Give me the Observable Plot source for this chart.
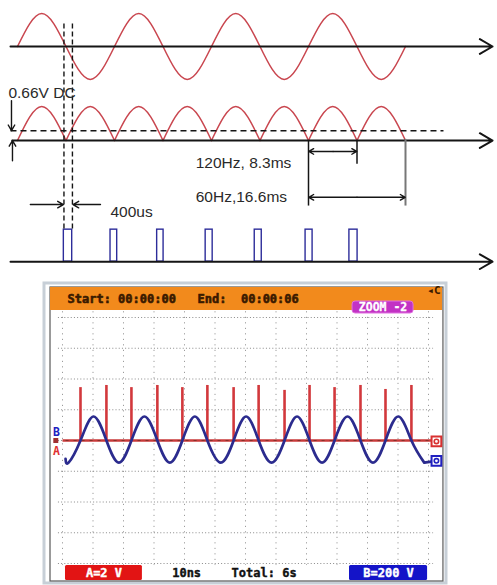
<!DOCTYPE html>
<html><head><meta charset="utf-8">
<script src="https://cdn.jsdelivr.net/npm/d3@7"></script>
<script src="https://cdn.jsdelivr.net/npm/@observablehq/plot@0.6"></script>
<style>
html,body{margin:0;padding:0;background:#fff;}
#chart{width:497px;}
#chart svg{display:block;}
</style></head><body><div id="chart"></div>
<script>
// ===== Top timing diagram: x = time (ms), y = amplitude units =====
const sineT = [0, 4.15, 8.3, 12.45, 16.6, 20.75, 24.9, 29.05, 33.2, 37.35, 41.5, 45.65, 49.8, 53.95, 58.1, 62.25, 66.4];
const sineV = [0, 1, 0, -1, 0, 1, 0, -1, 0, 1, 0, -1, 0, 1, 0, -1, 0];
const humpStart = [0, 8.3, 16.6, 24.9, 33.2, 41.5, 49.8, 58.1];
const humpWidth = 8.3;
const humpPeak = 1.03;
const dcLevel = 0.3;           // 0.66V DC above rectified baseline
const pulseStart = [7.93, 15.92, 23.9, 32.2, 40.6, 49.3, 56.8];
const pulseEnd   = [9.36, 17.06, 25.0, 33.4, 41.8, 50.5, 58.2];
const pulseHeight = 0.97;
const traceLevel = [0, -2.85, -6.52]; // sine, rectified, pulses
const labels = ["0.66V DC", "120Hz, 8.3ms", "60Hz,16.6ms", "400us"];

// ===== Oscilloscope: x = time (ms, 10/div), y = divisions =====
const spikeT = [5.9, 14.4, 22.6, 31.1, 39.3, 47.5, 56.1, 64.3, 72.8, 81.0, 89.2, 97.7, 105.9, 114.4];
const spikeV = [1.72, 1.79, 1.72, 1.79, 1.72, 1.79, 1.72, 1.79, 1.63, 1.79, 1.72, 1.79, 1.66, 1.79];
const blueT = [1.0, 2.0, 5.9, 10.15, 14.4, 18.5, 22.6, 26.85, 31.1, 35.2, 39.3, 43.4, 47.5, 51.9, 56.1, 60.2, 64.3, 68.55, 72.8, 76.9, 81.0, 85.1, 89.2, 93.45, 97.7, 101.8, 105.9, 110.15, 114.4, 118.6];
const blueV = [-0.6, -0.72, 0, 0.78, 0, -0.72, 0, 0.78, 0, -0.72, 0, 0.78, 0, -0.72, 0, 0.78, 0, -0.72, 0, 0.78, 0, -0.72, 0, 0.78, 0, -0.72, 0, 0.78, 0, -0.72];
const gridX = [0, 10, 20, 30, 40, 50, 60, 70, 80, 90, 100, 110, 120];
const gridY = [-4, -3, -2, -1, 0, 1, 2, 3, 4];
const scopeTexts = ["Start: 00:00:00", "End:  00:00:06", "ZOOM -2", "A=2 V", "10ns", "Total: 6s", "B=200 V"];

const RED = "#c9464f", INK = "#151515", NAVY = "#2d2d9a";
const sansFont = "Liberation Sans, Arial, sans-serif";

const sinePts = sineT.map((t, i) => ({t, v: traceLevel[0] + sineV[i]}));
const humpPts = humpStart.flatMap((s, k) => [
  {t: s, v: traceLevel[1], k},
  {t: s + humpWidth / 2, v: traceLevel[1] + humpPeak, k},
  {t: s + humpWidth, v: traceLevel[1], k}
]);
const pulses = pulseStart.map((s, i) => ({x1: s, x2: pulseEnd[i], y1: traceLevel[2], y2: traceLevel[2] + pulseHeight}));
const axesArrows = [
  {x1: -1.2, x2: 81.3, y: traceLevel[0]},
  {x1: -0.9, x2: 81.3, y: traceLevel[1]},
  {x1: -1.2, x2: 81.3, y: traceLevel[2]}
].map(d => ({x1: d.x1, x2: d.x2, y1: d.y, y2: d.y}));
const dcY = traceLevel[1] + dcLevel;

const topPlot = Plot.plot({
  width: 497, height: 272,
  marginTop: 0, marginBottom: 0, marginLeft: 0, marginRight: 0,
  x: {domain: [0, 66.4], range: [17, 405], axis: null},
  y: {domain: [0, 1], range: [46, 13], axis: null},
  marks: [
    Plot.rect(pulses, {x1: "x1", x2: "x2", y1: "y1", y2: "y2", fill: "none", stroke: NAVY, strokeWidth: 1.4}),
    Plot.line(sinePts, {x: "t", y: "v", curve: "natural", stroke: RED, strokeWidth: 1.5}),
    Plot.line(humpPts, {x: "t", y: "v", z: "k", curve: "natural", stroke: RED, strokeWidth: 1.5}),
    Plot.link([{x1: -1.2, x2: 72.9, y1: dcY, y2: dcY}], {x1: "x1", x2: "x2", y1: "y1", y2: "y2", stroke: INK, strokeWidth: 1.5, strokeDasharray: "6,4"}),
    Plot.link([{x: 7.95}, {x: 9.4}], {x1: "x", x2: "x", y1: () => 0.7, y2: () => traceLevel[2] + 0.99, stroke: INK, strokeWidth: 1.4, strokeDasharray: "5,3"}),
    Plot.arrow(axesArrows, {x1: "x1", x2: "x2", y1: "y1", y2: "y2", stroke: INK, strokeWidth: 2, headLength: 11}),
    Plot.arrow([{x1: -1.03, x2: -1.03, y1: -1.64, y2: dcY}], {x1: "x1", x2: "x2", y1: "y1", y2: "y2", stroke: INK, strokeWidth: 1.4, headLength: 7}),
    Plot.arrow([{x1: -0.86, x2: -0.86, y1: -3.46, y2: traceLevel[1]}], {x1: "x1", x2: "x2", y1: "y1", y2: "y2", stroke: INK, strokeWidth: 1.4, headLength: 7}),
    Plot.arrow([{x1: 2.2, x2: 7.85, y: -4.79}, {x1: 14.2, x2: 9.5, y: -4.79}], {x1: "x1", x2: "x2", y1: "y", y2: "y", stroke: INK, strokeWidth: 1.4, headLength: 7}),
    Plot.link([{x: 49.8, y2: -4.82}, {x: 58.1, y2: -3.55}], {x1: "x", x2: "x", y1: () => traceLevel[1], y2: "y2", stroke: INK, strokeWidth: 1.5}),
    Plot.link([{x: 66.4, y2: -4.82}], {x1: "x", x2: "x", y1: () => traceLevel[1] + 0.05, y2: "y2", stroke: "#777", strokeWidth: 2}),
    Plot.arrow([
      {x1: 54.0, x2: 58.05, y: -3.18}, {x1: 54.0, x2: 49.85, y: -3.18},
      {x1: 58.1, x2: 66.35, y: -4.57}, {x1: 58.1, x2: 49.85, y: -4.57}
    ], {x1: "x1", x2: "x2", y1: "y", y2: "y", stroke: INK, strokeWidth: 1.4, headLength: 6}),
    Plot.text([
      {x: -1.55, y: -1.42, s: labels[0]},
      {x: 30.5, y: -3.545, s: labels[1]},
      {x: 30.5, y: -4.575, s: labels[2]},
      {x: 15.9, y: -5.03, s: labels[3]}
    ], {x: "x", y: "y", text: "s", textAnchor: "start", fontSize: 15.5, fontFamily: sansFont, fill: "#2a2a2a"})
  ]
});

// ===== Oscilloscope =====
const spikes = spikeT.map((t, i) => ({t, v: spikeV[i]}));
const bluePts = blueT.map((t, i) => ({t, v: blueV[i]}));
const monoFont = "DejaVu Sans Mono, monospace";

const scopePlot = Plot.plot({
  width: 497, height: 313,
  marginTop: 0, marginBottom: 0, marginLeft: 0, marginRight: 0,
  x: {domain: [0, 120], range: [62, 428], axis: null},
  y: {domain: [-4, 4], range: [291, 45], axis: null},
  marks: [
    Plot.rect([{x1: -5.9, x2: 125.9, y1: -4.65, y2: 5.106}], {x1: "x1", x2: "x2", y1: "y1", y2: "y2", fill: "#fff", stroke: "#c7cfd7", strokeWidth: 3}),
    Plot.rect([{x1: -3.93, x2: 124.9, y1: -4.585, y2: 4.976}], {x1: "x1", x2: "x2", y1: "y1", y2: "y2", fill: "#fff", stroke: "#5a5a5a", strokeWidth: 1.2}),
    Plot.rect([{x1: -3.93, x2: 124.6, y1: 4.228, y2: 4.976}], {x1: "x1", x2: "x2", y1: "y1", y2: "y2", fill: "#f28a1c"}),
    Plot.link(gridX.map(x => ({x})), {x1: "x", x2: "x", y1: () => 4.2, y2: () => -4.05, stroke: "#8a8a8a", strokeWidth: 1, strokeDasharray: "1,4.5"}),
    Plot.link(gridY.map(y => ({y})), {y1: "y", y2: "y", x1: () => -1.5, x2: () => 121.5, stroke: "#8a8a8a", strokeWidth: 1, strokeDasharray: "1,2.2"}),
    Plot.rect([{x1: 95.1, x2: 115.1, y1: 4.13, y2: 4.52}], {x1: "x1", x2: "x2", y1: "y1", y2: "y2", fill: "#c232c4", stroke: "#e070e0", strokeWidth: 1, rx: 3}),
    Plot.rect([{x1: 0.98, x2: 26.2, y1: -4.553, y2: -4.065, c: "#e21414"}, {x1: 94.1, x2: 119.7, y1: -4.553, y2: -4.065, c: "#1414c8"}], {x1: "x1", x2: "x2", y1: "y1", y2: "y2", fill: "c", rx: 1.5}),
    Plot.link([{x1: 0, x2: 122.6, y: 0}], {x1: "x1", x2: "x2", y1: "y", y2: "y", stroke: "#c83a3a", strokeWidth: 2.6}),
    Plot.link([{x1: 1, x2: 122, y: 0}], {x1: "x1", x2: "x2", y1: "y", y2: "y", stroke: "#5a2a20", strokeWidth: 1.2, strokeDasharray: "3,5", strokeOpacity: 0.6}),
    Plot.ruleX(spikes, {x: "t", y1: () => 0, y2: "v", stroke: "#d2383c", strokeWidth: 2.6}),
    Plot.line(bluePts, {x: "t", y: "v", curve: "natural", stroke: "#2b2b8e", strokeWidth: 2.7}),
    Plot.link([{x1: 118.6, x2: 122.6, y1: -0.72, y2: -0.66}], {x1: "x1", x2: "x2", y1: "y1", y2: "y2", stroke: "#2b2b8e", strokeWidth: 2.7}),
    Plot.dot([{t: 122.6, v: -0.03, c: "#d83030"}, {t: 122.6, v: -0.66, c: "#2020c0"}], {x: "t", y: "v", symbol: "square", r: 5.5, stroke: "c", fill: "#fff", strokeWidth: 2}),
    Plot.dot([{t: 122.6, v: -0.03, c: "#d83030"}, {t: 122.6, v: -0.66, c: "#2020c0"}], {x: "t", y: "v", r: 2.2, stroke: "c", fill: "none", strokeWidth: 1.6}),
    Plot.dot([{t: -2.2, v: 0}], {x: "t", y: "v", symbol: "square", r: 2.8, fill: "#a03030"}),
    Plot.text([{t: -2.0, v: 0.28, s: "B", c: "#2020c0"}, {t: -2.0, v: -0.36, s: "A", c: "#e03030"}], {x: "t", y: "v", text: "s", fill: "c", fontSize: 11.5, fontWeight: "bold", fontFamily: monoFont}),
    Plot.text([{t: 1.64, s: scopeTexts[0]}, {t: 44.3, s: scopeTexts[1]}], {x: "t", y: () => 4.6, text: "s", textAnchor: "start", fontSize: 12, fontWeight: "bold", fontFamily: monoFont, fill: "#3a1a00", stroke: "#3a1a00", strokeWidth: 0.6}),
    Plot.text([{t: 121.8, s: "◂C"}], {x: "t", y: () => 4.88, text: "s", fontSize: 11, fontWeight: "bold", fontFamily: monoFont, fill: "#3a1a00"}),
    Plot.text([{t: 105.1, s: scopeTexts[2]}], {x: "t", y: () => 4.32, text: "s", fontSize: 11.5, fontWeight: "bold", fontFamily: monoFont, fill: "#fff", stroke: "#fff", strokeWidth: 0.3}),
    Plot.text([
      {t: 13.6, s: scopeTexts[3], c: "#fff"},
      {t: 40.7, s: scopeTexts[4], c: "#111"},
      {t: 66.1, s: scopeTexts[5], c: "#111"},
      {t: 106.9, s: scopeTexts[6], c: "#fff"}
    ], {x: "t", y: () => -4.31, text: "s", fill: "c", stroke: "c", strokeWidth: 0.4, fontSize: 12, fontWeight: "bold", fontFamily: monoFont})
  ]
});

const root = document.getElementById("chart");
root.appendChild(topPlot);
root.appendChild(scopePlot);
</script>
</body></html>
